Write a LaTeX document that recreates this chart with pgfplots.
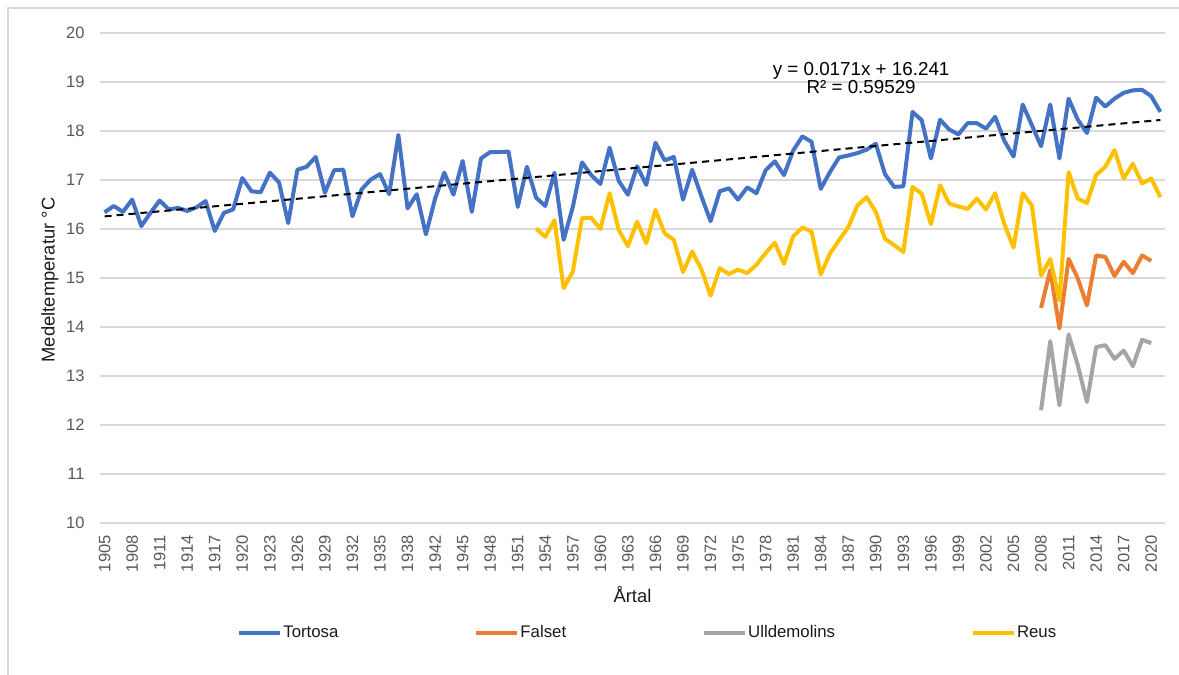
\documentclass[border=0pt]{standalone}
\usepackage{pgfplots}
\pgfplotsset{compat=1.18}
\usepackage{pgfplotstable}
\usepackage{fontspec}
\setmainfont{Liberation Sans}
\definecolor{tblue}{HTML}{4472C4}
\definecolor{torange}{HTML}{ED7D31}
\definecolor{tgray}{HTML}{A5A5A5}
\definecolor{tyellow}{HTML}{FFC000}
\definecolor{gridc}{HTML}{D9D9D9}
\definecolor{tickc}{HTML}{595959}
\definecolor{txtc}{HTML}{1A1A1A}

\pgfplotstableread{
i v
0 16.34
1 16.47
2 16.35
3 16.60
4 16.06
5 16.33
6 16.58
7 16.40
8 16.43
9 16.37
10 16.44
11 16.57
12 15.96
13 16.33
14 16.40
15 17.04
16 16.77
17 16.75
18 17.15
19 16.95
20 16.12
21 17.21
22 17.27
23 17.47
24 16.74
25 17.20
26 17.21
27 16.26
28 16.81
29 17.01
30 17.12
31 16.71
32 17.92
33 16.42
34 16.71
35 15.89
36 16.62
37 17.15
38 16.70
39 17.39
40 16.35
41 17.44
42 17.57
43 17.57
44 17.58
45 16.45
46 17.27
47 16.64
48 16.47
49 17.15
50 15.78
51 16.45
52 17.36
53 17.10
54 16.92
55 17.66
56 16.98
57 16.70
58 17.28
59 16.90
60 17.76
61 17.40
62 17.47
63 16.60
64 17.21
65 16.67
66 16.16
67 16.77
68 16.83
69 16.60
70 16.85
71 16.73
72 17.20
73 17.38
74 17.10
75 17.60
76 17.89
77 17.78
78 16.82
79 17.16
80 17.46
81 17.50
82 17.55
83 17.62
84 17.74
85 17.12
86 16.86
87 16.87
88 18.39
89 18.22
90 17.44
91 18.23
92 18.03
93 17.93
94 18.16
95 18.16
96 18.05
97 18.29
98 17.80
99 17.48
100 18.54
101 18.12
102 17.69
103 18.54
104 17.44
105 18.66
106 18.23
107 17.96
108 18.68
109 18.50
110 18.66
111 18.78
112 18.83
113 18.84
114 18.71
115 18.39
}\tortosa

\pgfplotstableread{
i v
47 16.01
48 15.84
49 16.18
50 14.79
51 15.13
52 16.22
53 16.23
54 16.00
55 16.73
56 15.98
57 15.65
58 16.15
59 15.71
60 16.39
61 15.91
62 15.78
63 15.12
64 15.54
65 15.18
66 14.64
67 15.20
68 15.08
69 15.17
70 15.10
71 15.27
72 15.51
73 15.72
74 15.29
75 15.85
76 16.03
77 15.95
78 15.07
79 15.50
80 15.77
81 16.04
82 16.48
83 16.65
84 16.35
85 15.80
86 15.67
87 15.53
88 16.86
89 16.72
90 16.10
91 16.89
92 16.52
93 16.46
94 16.41
95 16.62
96 16.40
97 16.73
98 16.10
99 15.62
100 16.73
101 16.48
102 15.05
103 15.39
104 14.54
105 17.16
106 16.62
107 16.53
108 17.10
109 17.27
110 17.61
111 17.03
112 17.33
113 16.93
114 17.03
115 16.65
}\reus

\pgfplotstableread{
i v
102 14.39
103 15.16
104 13.97
105 15.39
106 14.99
107 14.44
108 15.46
109 15.43
110 15.04
111 15.33
112 15.10
113 15.46
114 15.35
}\falset

\pgfplotstableread{
i v
102 12.30
103 13.71
104 12.40
105 13.85
106 13.22
107 12.47
108 13.59
109 13.63
110 13.35
111 13.52
112 13.20
113 13.74
114 13.67
}\ulldemolins

\pgfplotstableread{
i v
0 16.258
115 18.2246
}\trend

\begin{document}
\begin{tikzpicture}
\useasboundingbox (0,0) rectangle (589.5pt,-337.5pt);
\draw[gridc, line width=0.6pt] (4pt,-337.5pt) -- (4pt,-4pt) -- (589.5pt,-4pt);
\begin{axis}[
  at={(50pt,-261.5pt)}, anchor=south west,
  width=532.5pt, height=245pt, scale only axis,
  xmin=-0.5, xmax=115.5, ymin=10, ymax=20,
  ytick={10,11,...,20},
  xtick={0,3,...,114},
  xticklabels={1905,1908,1911,1914,1917,1920,1923,1926,1929,1932,1935,1938,1942,1945,1948,1951,1954,1957,1960,1963,1966,1969,1972,1975,1978,1981,1984,1987,1990,1993,1996,1999,2002,2005,2008,2011,2014,2017,2020},
  axis line style={draw=none},
  tick style={draw=none},
  ymajorgrids, grid style={gridc, line width=0.75pt},
  /pgf/number format/assume math mode=true,
  ticklabel style={font=\fontsize{8.25}{10}\selectfont, text=tickc},
  yticklabel style={anchor=east, inner sep=0pt, xshift=-7.5pt},
  xticklabel style={rotate=90, anchor=east, inner sep=0pt, xshift=-6pt},
  xlabel={Årtal},
  ylabel={Medeltemperatur °C},
  label style={font=\fontsize{9.2}{11}\selectfont, text=txtc},
  xlabel style={at={(axis description cs:0.5,-0.147)}, anchor=center},
  ylabel style={at={(axis description cs:-0.047,0.496)}, anchor=center},
  legend columns=4,
  legend style={at={(0.1286,-0.2245)}, anchor=west, draw=none, fill=none,
    inner sep=0pt, font=\fontsize{8.4}{10}\selectfont, text=txtc,
    nodes={inner sep=0.5pt},
    /tikz/every even column/.append style={column sep=67.5pt}},
  legend image code/.code={\draw[#1] (0pt,0pt) -- (20.5pt,0pt);},
  every axis plot/.append style={line width=2pt, line join=round},
]
\addplot[tblue] table[x=i,y=v]{\tortosa};
\addlegendentry{Tortosa}
\addplot[torange] table[x=i,y=v]{\falset};
\addlegendentry{Falset}
\addplot[tgray] table[x=i,y=v]{\ulldemolins};
\addlegendentry{Ulldemolins}
\addplot[tyellow] table[x=i,y=v]{\reus};
\addlegendentry{Reus}
\addplot[black, line width=1pt, dash pattern=on 3.5pt off 2.5pt, forget plot] table[x=i,y=v]{\trend};
\node[font=\fontsize{9.4}{11}\selectfont, text=black] at (axis cs:82.4,19.224) {y = 0.0171x + 16.241};
\node[font=\fontsize{9.4}{11}\selectfont, text=black] at (axis cs:82.4,18.888) {R² = 0.59529};
\end{axis}
\end{tikzpicture}
\end{document}
